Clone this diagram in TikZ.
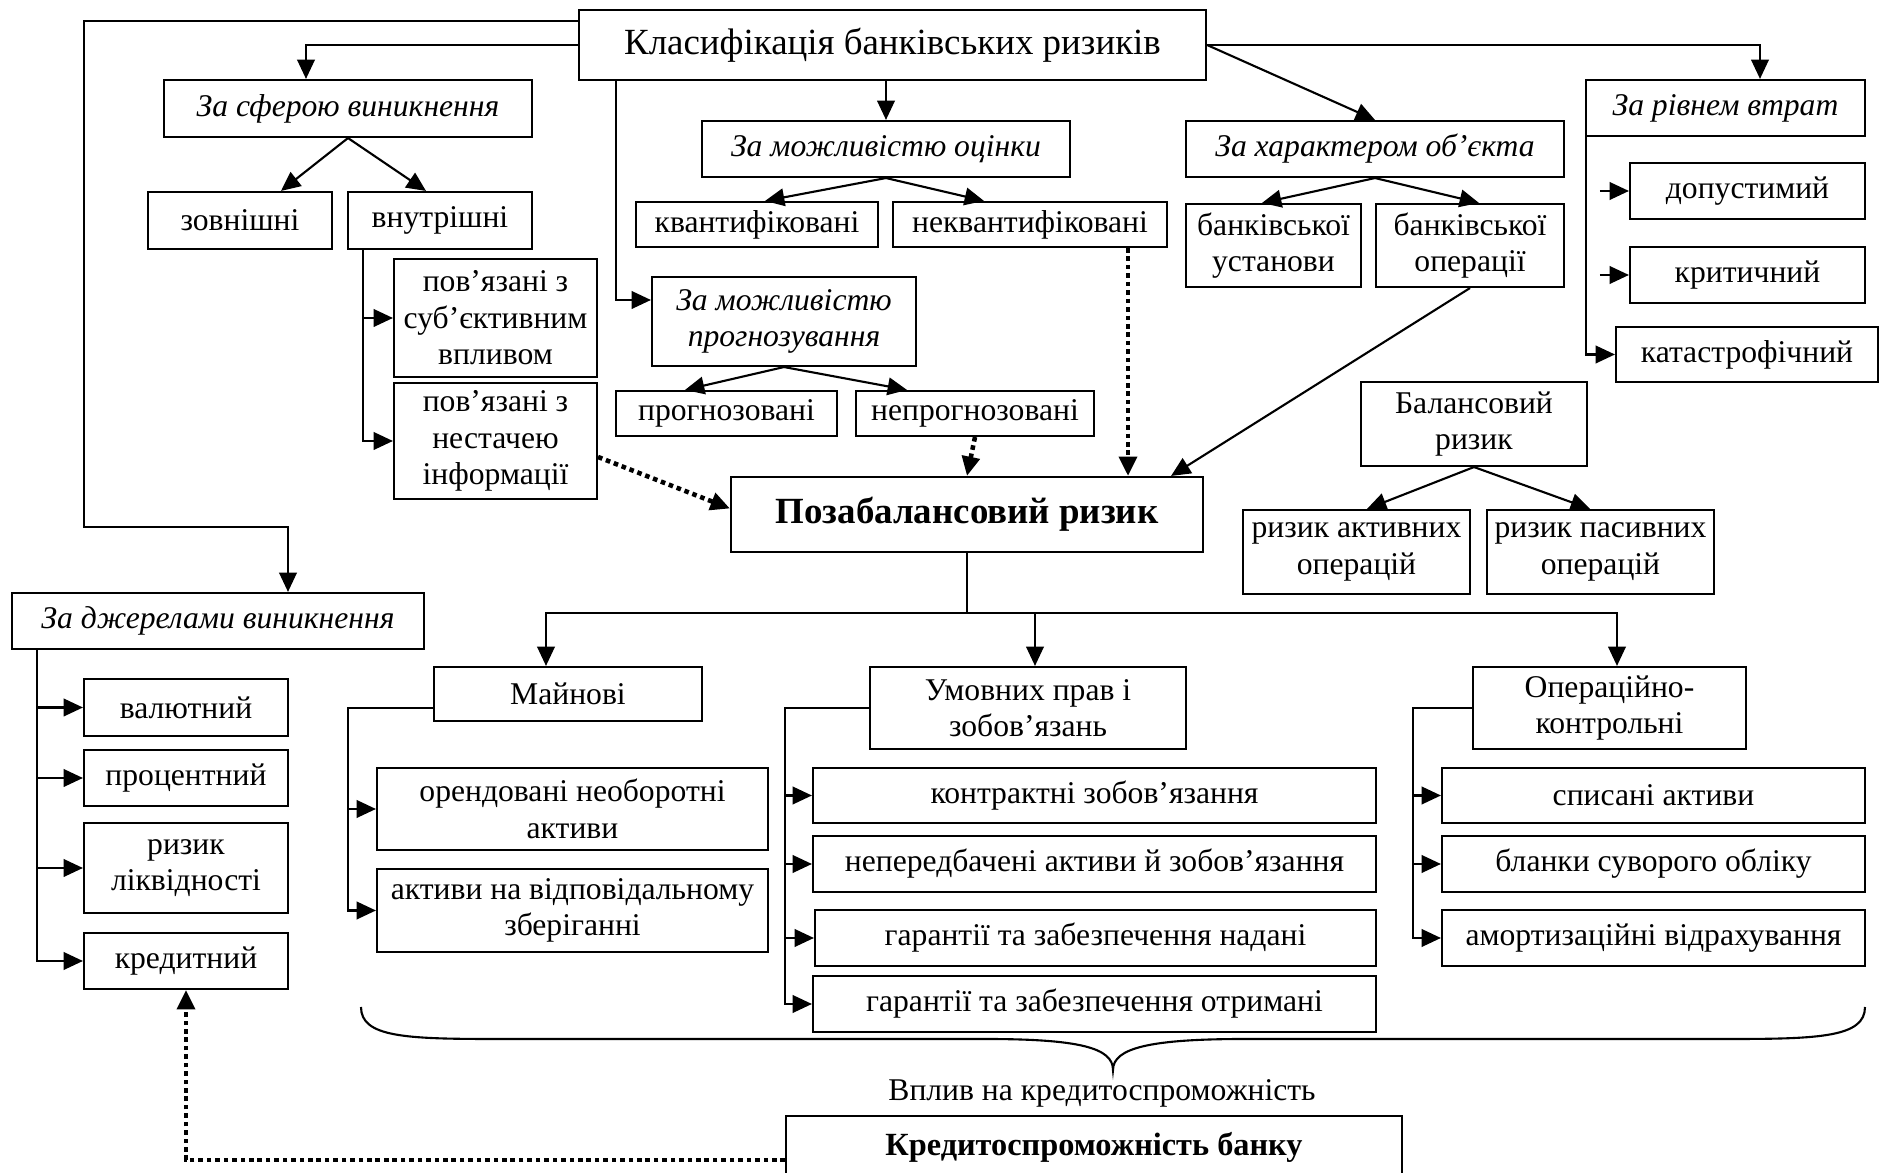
\documentclass[tikz,border=0pt]{standalone}
\usepackage{fontspec}
\setmainfont{Liberation Serif}
\usetikzlibrary{arrows.meta, positioning, calc}

\tikzset{
  box/.style={draw, line width=0.6pt, align=center, inner sep=1pt,
    font=\fontsize{9}{10.4}\selectfont},
  cat/.style={box, font=\fontsize{9}{10.4}\selectfont\itshape},
  sz/.style 2 args={minimum width=#1cm, minimum height=#2cm},
  arr/.style={line width=0.6pt, -{Triangle[length=5.5pt, width=5pt]}},
  dotarr/.style={arr, line width=1.3pt, dash pattern=on 1.3pt off 1.1pt},
}

\begin{document}
\begin{tikzpicture}
\useasboundingbox (0,0) rectangle (18.81,-11.73);

% top level
\node[box, sz={6.27}{0.70}, font=\fontsize{10.5}{12}\selectfont] (main) at (8.925,-0.45) {Класифікація банківських ризиків};

% by sphere
\node[cat, sz={3.68}{0.57}] (sfera) at (3.48,-1.085) {За сферою виникнення};
\node[box, sz={1.84}{0.57}] (zovn) at (2.40,-2.205) {зовнішні};
\node[box, sz={1.84}{0.57}] (vnutr) at (4.40,-2.205) {внутрішні};
\node[box, sz={2.03}{1.18}] (subj) at (4.955,-3.18) {пов’язані з\\суб’єктивним\\впливом};
\node[box, sz={2.03}{1.16}] (nestacha) at (4.955,-4.41) {пов’язані з\\нестачею\\інформації};

% by estimation / forecasting
\node[cat, sz={3.68}{0.56}] (ocinka) at (8.86,-1.49) {За можливістю оцінки};
\node[box, sz={2.42}{0.45}] (kvant) at (7.57,-2.245) {квантифіковані};
\node[box, sz={2.74}{0.45}] (nekvant) at (10.30,-2.245) {неквантифіковані};
\node[cat, sz={2.64}{0.89}] (prognoz) at (7.84,-3.215) {За можливістю\\прогнозування};
\node[box, sz={2.21}{0.45}] (progn) at (7.265,-4.135) {прогнозовані};
\node[box, sz={2.38}{0.45}] (neprogn) at (9.75,-4.135) {непрогнозовані};

\node[box, sz={4.72}{0.75}, font=\fontsize{10.5}{12}\selectfont\bfseries] (pozabal) at (9.67,-5.145) {Позабалансовий ризик};

% by object
\node[cat, sz={3.78}{0.56}] (obj) at (13.75,-1.49) {За характером об’єкта};
\node[box, sz={1.75}{0.83}] (ustanovy) at (12.735,-2.455) {банківської\\установи};
\node[box, sz={1.88}{0.83}] (operacii) at (14.70,-2.455) {банківської\\операції};

% by losses
\node[cat, sz={2.79}{0.56}] (vtrat) at (17.255,-1.08) {За рівнем втрат};
\node[box, sz={2.35}{0.56}] (dopust) at (17.475,-1.91) {допустимий};
\node[box, sz={2.35}{0.56}] (krytych) at (17.475,-2.75) {критичний};
\node[box, sz={2.62}{0.55}] (katastr) at (17.47,-3.545) {катастрофічний};

% balance risk
\node[box, sz={2.26}{0.84}] (balans) at (14.74,-4.24) {Балансовий\\ризик};
\node[box, sz={2.27}{0.84}] (aktyv) at (13.565,-5.52) {ризик активних\\операцій};
\node[box, sz={2.27}{0.84}] (pasyv) at (16.005,-5.52) {ризик пасивних\\операцій};

% by sources
\node[cat, sz={4.12}{0.56}] (dzherela) at (2.18,-6.21) {За джерелами виникнення};
\node[box, sz={2.04}{0.57}] (valut) at (1.86,-7.075) {валютний};
\node[box, sz={2.04}{0.56}] (procent) at (1.86,-7.78) {процентний};
\node[box, sz={2.04}{0.90}] (likvid) at (1.86,-8.68) {ризик\\ліквідності};
\node[box, sz={2.04}{0.56}] (kredyt) at (1.86,-9.61) {кредитний};

% off-balance groups
\node[box, sz={2.68}{0.54}] (majnovi) at (5.68,-6.94) {Майнові};
\node[box, sz={3.91}{0.82}] (orend) at (5.725,-8.09) {орендовані необоротні\\активи};
\node[box, sz={3.91}{0.83}] (zberig) at (5.725,-9.105) {активи на відповідальному\\зберіганні};

\node[box, sz={3.16}{0.82}] (umovni) at (10.28,-7.08) {Умовних прав і\\зобов’язань};
\node[box, sz={5.63}{0.55}] (kontr) at (10.945,-7.955) {контрактні зобов’язання};
\node[box, sz={5.63}{0.56}] (neperedb) at (10.945,-8.64) {непередбачені активи й зобов’язання};
\node[box, sz={5.61}{0.56}] (nadani) at (10.955,-9.38) {гарантії та забезпечення надані};
\node[box, sz={5.63}{0.56}] (otrym) at (10.945,-10.04) {гарантії та забезпечення отримані};

\node[box, sz={2.73}{0.82}] (operkontr) at (16.095,-7.08) {Операційно-\\контрольні};
\node[box, sz={4.23}{0.55}] (spysani) at (16.535,-7.955) {списані активи};
\node[box, sz={4.23}{0.56}] (blanky) at (16.535,-8.64) {бланки суворого обліку};
\node[box, sz={4.23}{0.56}] (amort) at (16.535,-9.38) {амортизаційні відрахування};

% solvency
\node[font=\fontsize{9}{10.6}\selectfont] (vplyv) at (11.02,-10.93) {Вплив на кредитоспроможність};
\node[box, sz={6.16}{0.62}, font=\fontsize{9.2}{11}\selectfont\bfseries] (kredspr) at (10.94,-11.47) {Кредитоспроможність банку};

\coordinate (lft) at (0.84,-5.27);
\coordinate (bus) at (9.67,-6.13);

% connectors from the top
\draw[arr] ([yshift=0.243cm]main.west) -| (lft) -| ([xshift=0.7cm]dzherela.north);
\draw[arr] (main.west) -| ([xshift=-0.42cm]sfera.north);
\draw[arr] (ocinka.north |- main.south) -- (ocinka.north);
\draw[arr] ([xshift=0.38cm]main.south west) |- ([yshift=0.215cm]prognoz.west);
\draw[arr] (main.east) -- (obj.north);
\draw[arr] (main.east) -| ([xshift=0.345cm]vtrat.north);

\draw[arr] (sfera.south) -- ([xshift=0.41cm]zovn.north);
\draw[arr] (sfera.south) -- ([xshift=-0.14cm]vnutr.north);
\draw[arr] ([xshift=-0.77cm]vnutr.south) |- (subj.west);
\draw[arr] ([xshift=-0.77cm]vnutr.south) |- (nestacha.west);

\draw[arr] (ocinka.south) -- ([xshift=0.08cm]kvant.north);
\draw[arr] (ocinka.south) -- ([xshift=-0.46cm]nekvant.north);
\draw[arr] (prognoz.south) -- ([xshift=-0.415cm]progn.north);
\draw[arr] (prognoz.south) -- ([xshift=-0.68cm]neprogn.north);

\draw[arr] (obj.south) -- ([xshift=-0.115cm]ustanovy.north);
\draw[arr] (obj.south) -- ([xshift=0.09cm]operacii.north);

\draw[arr] ([xshift=0.01cm]vtrat.south west) |- (katastr.west);
\draw[arr] ([xshift=-0.29cm]dopust.west) -- (dopust.west);
\draw[arr] ([xshift=-0.29cm]krytych.west) -- (krytych.west);

\draw[arr] (balans.south) -- ([xshift=0.105cm]aktyv.north);
\draw[arr] (balans.south) -- ([xshift=-0.105cm]pasyv.north);

% into the off-balance risk
\draw[dotarr] ([yshift=-0.16cm]nestacha.east) -- ([yshift=0.06cm]pozabal.west);
\draw[dotarr] (neprogn.south) -- (pozabal.north);
\draw[dotarr] ([xshift=0.98cm]nekvant.south) -- ([xshift=0.98cm]nekvant.south |- pozabal.north);
\draw[arr] (operacii.south) -- ([xshift=-0.33cm]pozabal.north east);

% sources
\foreach \n in {valut, procent, likvid, kredyt}
  \draw[arr] ([xshift=0.26cm]dzherela.south west) |- (\n.west);

% groups
\draw[line width=0.6pt] (pozabal.south) -- (bus);
\draw[arr] (bus) -| ([xshift=-0.22cm]majnovi.north);
\draw[arr] (bus) -| ([xshift=0.07cm]umovni.north);
\draw[arr] (bus) -| ([xshift=0.075cm]operkontr.north);

\foreach \n in {orend, zberig}
  \draw[arr] ([yshift=-0.14cm]majnovi.west) -- ++(-0.85,0) |- (\n.west);
\foreach \n in {kontr, neperedb, nadani, otrym}
  \draw[arr] (umovni.west) -- ++(-0.84,0) |- (\n.west);
\foreach \n in {spysani, blanky, amort}
  \draw[arr] (operkontr.west) -- ++(-0.59,0) |- (\n.west);

% brace
\coordinate (brL) at (3.61,-10.07);
\coordinate (brR) at (18.65,-10.07);
\coordinate (brTip) at (11.13,-10.70);
\draw[line width=0.6pt] (brL) .. controls ++(0,-0.30) and ++(-0.9,0) .. (4.95,-10.39)
  -- (9.85,-10.39) .. controls ++(0.95,0) and ++(0,0.22) .. (brTip)
  .. controls ++(0,0.22) and ++(-0.95,0) .. (12.45,-10.39)
  -- (17.30,-10.39) .. controls ++(0.9,0) and ++(0,-0.30) .. (brR);

\draw[dotarr] ([yshift=-0.13cm]kredspr.west) -| (kredyt.south);
\end{tikzpicture}
\end{document}
